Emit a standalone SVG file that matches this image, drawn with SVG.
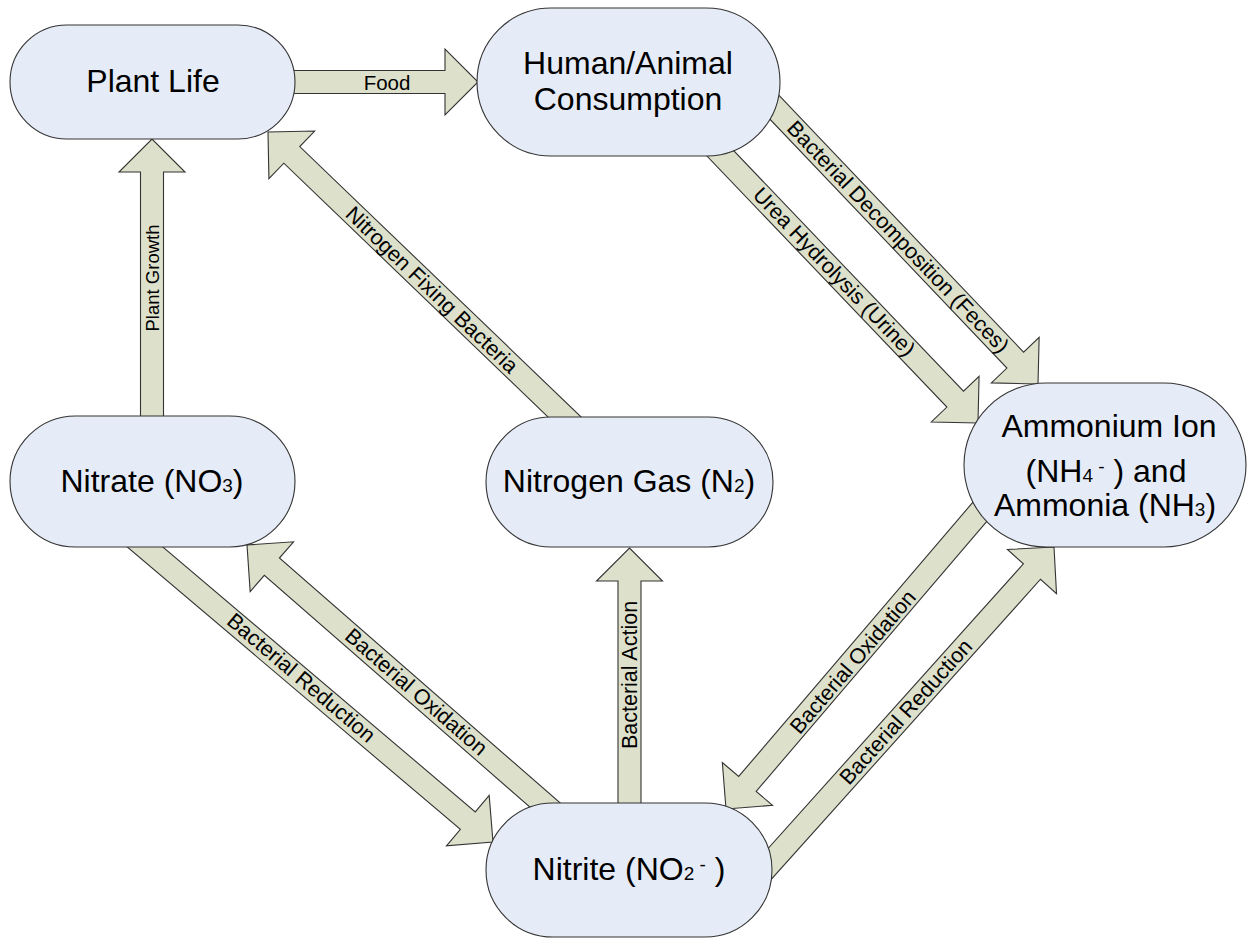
<svg xmlns="http://www.w3.org/2000/svg" width="1247" height="938" viewBox="0 0 1247 938">
<style>
.node rect{fill:#E6ECF7;stroke:#333;stroke-width:1.1}
.node text{font-family:"Liberation Sans",Arial,sans-serif;font-size:32px;fill:#000;text-anchor:middle}
.arr polygon{fill:#DDE0CA;stroke:#333;stroke-width:1.1;stroke-linejoin:miter}
.arr text{font-family:"Liberation Sans",Arial,sans-serif;font-size:21.5px;fill:#000;text-anchor:middle;dominant-baseline:central}
.sm{font-size:19px}
</style>
<rect width="1247" height="938" fill="#fff"/>
<g id="connectors">
  <g class="arr" id="c-food">
    <polygon transform="translate(478,82)" points="-208,-11.5 -33,-11.5 -33,-33 0,0 -33,33 -33,11.5 -208,11.5"/>
    <text transform="translate(387,82)" style="font-size:20.5px">Food</text>
  </g>
  <g class="arr" id="c-plantgrowth">
    <polygon transform="translate(152,139) rotate(-90)" points="-301,-11.5 -33,-11.5 -33,-33 0,0 -33,33 -33,11.5 -301,11.5"/>
    <text transform="translate(152,278) rotate(-90)" style="font-size:18.5px">Plant Growth</text>
  </g>
  <g class="arr" id="c-fixing">
    <polygon transform="translate(268,132) rotate(223.86)" points="-450,-11.5 -33,-11.5 -33,-33 0,0 -33,33 -33,11.5 -450,11.5"/>
    <text transform="translate(431.7,290) rotate(43.86)">Nitrogen Fixing Bacteria</text>
  </g>
  <g class="arr" id="c-decomp">
    <polygon transform="translate(1038,384) rotate(46.4)" points="-400,-11.5 -33,-11.5 -33,-33 0,0 -33,33 -33,11.5 -400,11.5"/>
    <text transform="translate(898,237) rotate(46.4)">Bacterial Decomposition (Feces)</text>
  </g>
  <g class="arr" id="c-urea">
    <polygon transform="translate(978,423) rotate(46.3)" points="-420,-11.5 -33,-11.5 -33,-33 0,0 -33,33 -33,11.5 -420,11.5"/>
    <text transform="translate(834,272) rotate(46.3)">Urea Hydrolysis (Urine)</text>
  </g>
  <g class="arr" id="c-lreduction">
    <polygon transform="translate(493,842) rotate(40.3)" points="-490,-11.5 -33,-11.5 -33,-33 0,0 -33,33 -33,11.5 -490,11.5"/>
    <text transform="translate(301,678) rotate(40.3)">Bacterial Reduction</text>
  </g>
  <g class="arr" id="c-loxidation">
    <polygon transform="translate(247,545) rotate(221.1)" points="-440,-11.5 -33,-11.5 -33,-33 0,0 -33,33 -33,11.5 -440,11.5"/>
    <text transform="translate(416,692) rotate(41.1)">Bacterial Oxidation</text>
  </g>
  <g class="arr" id="c-action">
    <polygon transform="translate(629.5,548) rotate(-90)" points="-282,-11.5 -33,-11.5 -33,-33 0,0 -33,33 -33,11.5 -282,11.5"/>
    <text transform="translate(630,675) rotate(-90)">Bacterial Action</text>
  </g>
  <g class="arr" id="c-roxidation">
    <polygon transform="translate(726,809) rotate(130.5)" points="-400,-11.5 -33,-11.5 -33,-33 0,0 -33,33 -33,11.5 -400,11.5"/>
    <text transform="translate(853,662) rotate(-49.5)">Bacterial Oxidation</text>
  </g>
  <g class="arr" id="c-rreduction">
    <polygon transform="translate(1054,547) rotate(-48.1)" points="-480,-11.5 -33,-11.5 -33,-33 0,0 -33,33 -33,11.5 -480,11.5"/>
    <text transform="translate(906,712) rotate(-48.1)">Bacterial Reduction</text>
  </g>
</g>
<g class="node" id="n-plant">
  <rect x="10" y="25" width="285" height="114" rx="57" ry="57"/>
  <text x="153" y="92">Plant Life</text>
</g>
<g class="node" id="n-human">
  <rect x="477" y="8" width="303" height="148" rx="74" ry="74"/>
  <text x="628" y="74">Human/Animal</text>
  <text x="628" y="110">Consumption</text>
</g>
<g class="node" id="n-ammonium">
  <rect x="964" y="383" width="282" height="164" rx="82" ry="82"/>
  <text x="1109" y="437">Ammonium Ion</text>
  <text x="1106" y="482">(NH<tspan class="sm">4</tspan><tspan class="sm" dy="-9"> -</tspan><tspan dy="9"> ) and</tspan></text>
  <text x="1105" y="516">Ammonia (NH<tspan class="sm">3</tspan>)</text>
</g>
<g class="node" id="n-nitrate">
  <rect x="10" y="416" width="285" height="131" rx="65.5" ry="65.5"/>
  <text x="152" y="492">Nitrate (NO<tspan class="sm">3</tspan>)</text>
</g>
<g class="node" id="n-nitrogen">
  <rect x="486" y="417" width="287" height="130" rx="65" ry="65"/>
  <text x="629" y="492">Nitrogen Gas (N<tspan class="sm">2</tspan>)</text>
</g>
<g class="node" id="n-nitrite">
  <rect x="486" y="803" width="286" height="134" rx="67" ry="67"/>
  <text x="629" y="880">Nitrite (NO<tspan class="sm">2</tspan><tspan class="sm" dy="-9"> -</tspan><tspan dy="9"> )</tspan></text>
</g>
</svg>
